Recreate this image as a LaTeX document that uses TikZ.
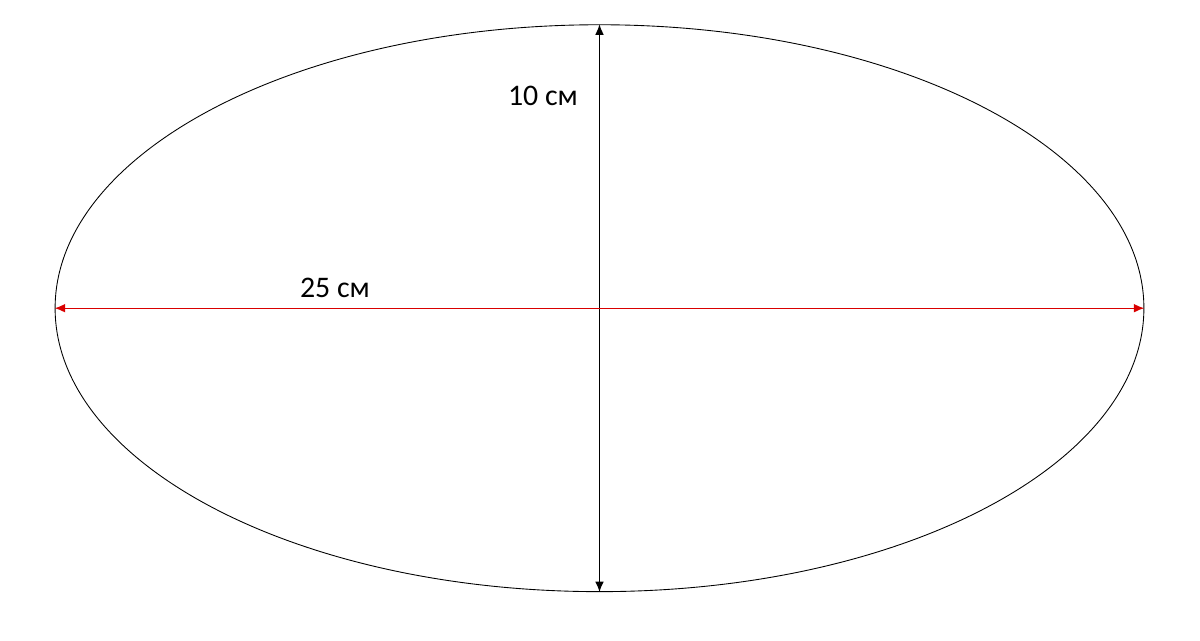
\documentclass[tikz,border=0pt]{standalone}
\usepackage{fontspec}
\setmainfont{Carlito}
\usepackage{tikz}
\usetikzlibrary{shapes.geometric, arrows.meta}

\begin{document}
\begin{tikzpicture}[x=0.02cm, y=-0.02cm,
						every node/.style={font=\fontsize{17}{20}\selectfont},
						every path/.style={>={Latex[length=6pt,width=5pt]}},
						dim/.style={<->, line width=0.7pt}]
					\useasboundingbox (0,0) rectangle (1200,641);
					\node (E) [ellipse, draw, line width=0.5pt, inner sep=0pt,
						minimum width=21.78cm, minimum height=11.34cm] at (599.5,308.2) {};
					\node (H) at (543,96) {10 см};
					\node (W) at (335,288) {25 см};

					\draw [dim] (E.north) -- (E.south);
					\draw [dim, red!85!black] (E.west) -- (E.east);
				\end{tikzpicture}
\end{document}
